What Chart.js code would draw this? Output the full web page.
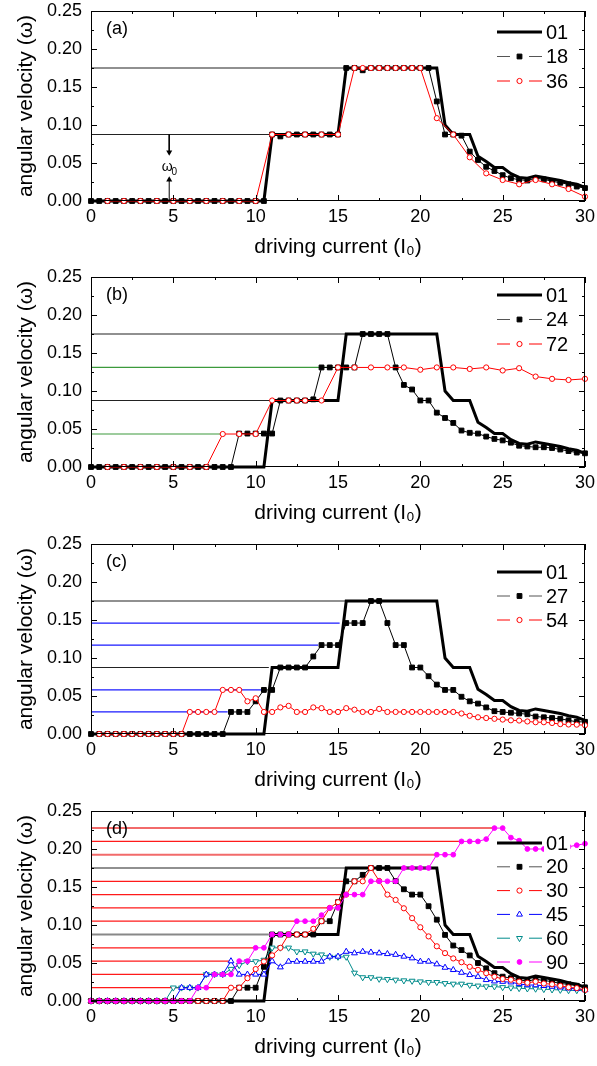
<!DOCTYPE html>
<html><head><meta charset="utf-8">
<script src="https://cdn.jsdelivr.net/npm/chart.js@4/dist/chart.umd.min.js"></script>
<style>
html,body{margin:0;padding:0;background:#fff;}
#wrap{position:relative;width:597px;height:1066px;overflow:hidden;}
.p{position:absolute;left:0;width:597px;}
canvas{display:block;}
</style></head><body>
<div id="wrap">
<div class="p" style="top:0;height:266px"><canvas id="ca" width="597" height="266"></canvas></div>
<div class="p" style="top:266px;height:266px"><canvas id="cb" width="597" height="266"></canvas></div>
<div class="p" style="top:533px;height:266px"><canvas id="cc" width="597" height="266"></canvas></div>
<div class="p" style="top:800px;height:266px"><canvas id="cd" width="597" height="266"></canvas></div>
</div>
<script>
// ---------------- DATA ----------------
const xTickValues = [0, 5, 10, 15, 20, 25, 30];
const xMinorTicks = [2.5, 7.5, 12.5, 17.5, 22.5, 27.5];
const yTickValues = [0, 0.05, 0.10, 0.15, 0.20, 0.25];
const yMinorTicks = [0.025, 0.075, 0.125, 0.175, 0.225];

const xHalf = [0,0.5,1,1.5,2,2.5,3,3.5,4,4.5,5,5.5,6,6.5,7,7.5,8,8.5,9,9.5,10,10.5,11,11.5,12,12.5,13,13.5,14,14.5,15,15.5,16,16.5,17,17.5,18,18.5,19,19.5,20,20.5,21,21.5,22,22.5,23,23.5,24,24.5,25,25.5,26,26.5,27,27.5,28,28.5,29,29.5,30];

// curve 01 (same in all panels)
const x01 = [0,10.5,11,15,15.5,21,21.5,22,23,23.5,24,24.5,25,25.5,26,26.5,27,27.5,28,28.5,29,29.5,30];
const y01 = [0,0,0.0875,0.0875,0.175,0.175,0.1,0.0875,0.0875,0.059,0.052,0.044,0.044,0.036,0.031,0.030,0.033,0.031,0.029,0.027,0.024,0.022,0.018];

// panel (a)
const ya18 = [0,0,0,0,0,0,0,0,0,0,0,0,0,0,0,0,0,0,0,0,0,0,
  0.0875,0.085,0.0875,0.0875,0.0875,0.0875,0.0875,0.0875,0.0875,
  0.175,0.175,0.172,0.175,0.175,0.175,0.175,0.175,0.175,0.175,0.175,
  0.131,0.0875,0.0875,0.086,0.065,0.054,0.045,0.0395,0.034,0.030,0.028,0.027,0.030,0.0285,0.026,0.024,0.022,0.019,0.017];
const xa36 = [1,2,3,4,5,6,7,8,9,10,11,12,13,14,15,16,16.5,17,17.5,18,18.5,19,19.5,20,21,22,23,24,25,26,27,28,29,30];
const ya36 = [0,0,0,0,0,0,0,0,0,0,0.0875,0.0875,0.0875,0.0875,0.0875,
  0.175,0.175,0.175,0.175,0.175,0.175,0.175,0.175,0.175,
  0.109,0.0875,0.0575,0.0364,0.0276,0.022,0.0276,0.022,0.0158,0.0057];
const refAy = [0.175, 0.0875];
const refAx = [15.5, 11];
const omegaX = 4.75;

// panel (b)
const yb24 = [0,0,0,0,0,0,0,0,0,0,0,0,0,0,0,0,0,0,
  0.044,0.044,0.044,0.044,0.044,
  0.0875,0.0875,0.0875,0.0875,0.089,
  0.131,0.131,0.131,0.131,0.131,
  0.175,0.175,0.175,0.175,
  0.131,0.108,0.102,0.0875,0.0875,0.0715,0.0645,0.058,0.048,0.045,0.044,0.040,0.037,0.035,0.032,0.028,0.027,0.026,0.026,0.025,0.023,0.021,0.019,0.018];
const xb72 = [1,2,3,4,5,6,7,8,9,10,11,12,12.5,13,14,15,16,17,18,19,20,21,22,23,24,25,26,27,28,29,30];
const yb72 = [0,0,0,0,0,0,0,0.0434,0.0434,0.0434,0.0875,0.0875,0.0875,0.0875,0.0875,
  0.131,0.131,0.131,0.131,0.131,0.128,0.131,0.131,0.129,0.131,0.127,0.130,0.119,0.116,0.1145,0.116];
const refBy = [0.175, 0.131, 0.0875, 0.0434];
const refBx = [15.5, 14.9, 11, 8];

// panel (c)
const yc27 = [0,0,0,0,0,0,0,0,0,0,0,0,0,0,0,0,0,
  0.029,0.029,0.029,0.043,0.058,0.058,
  0.0875,0.0875,0.0875,0.0875,0.102,0.117,0.117,0.117,
  0.146,0.146,0.146,0.175,0.175,0.146,0.117,0.117,0.0875,0.0875,0.076,0.065,0.058,0.058,0.049,0.043,0.040,0.035,0.030,0.029,0.028,0.027,0.026,0.023,0.022,0.021,0.020,0.018,0.016,0.016];
const yc54 = [0,0,0,0,0,0,0,0,0,0,0,
  0.029,0.029,0.029,0.029,
  0.058,0.058,0.058,
  0.043,0.047,0.029,0.029,0.035,0.037,0.029,0.029,0.035,0.034,0.029,0.029,0.034,0.032,0.029,0.029,0.033,0.029,
  0.029,0.029,0.029,0.029,0.029,0.029,0.029,0.029,
  0.027,0.024,0.022,0.021,0.020,0.019,0.018,0.0177,0.0165,0.0155,0.0155,0.0145,0.013,0.0125,0.0123,0.0115];
const refCy = [0.175, 0.146, 0.117, 0.0875, 0.058, 0.029];
const refCx = [15.5, 15.1, 13.8, 10.8, 10.5, 8.3];

// panel (d)
const yd20 = [0,0,0,0,0,0,0,0,0,0,0,0,0,0,0,0,0,0,
  0.0175,0.0175,0.0175,0.045,0.0875,0.0875,0.0875,0.0875,0.0875,0.0875,
  0.105,0.105,0.13,0.1575,0.1575,0.166,0.175,0.175,0.175,0.158,
  0.147,0.14,0.14,0.1247,0.107,0.087,0.073,0.067,0.06,0.05,
  0.043,0.0366,0.032,0.030,0.028,0.026,0.0286,0.027,0.0255,0.023,
  0.022,0.02,0.018];
const yd30 = [0,0,0,0,0,0,0,0,0,0,0,0,0,0,0,0,0,
  0.0175,0.0175,0.03,0.042,0.052,0.06,0.07,0.0875,0.0875,0.0875,
  0.095,0.105,0.1225,0.13,0.14,0.1575,0.1575,0.175,0.158,0.14,
  0.133,0.122,0.109,0.097,0.085,0.072,0.063,0.056,0.051,0.045,
  0.041,0.0366,0.032,0.029,0.028,0.0255,0.024,0.0255,0.023,0.022,
  0.02,0.018,0.017,0.0145];
const yd45 = [0,0,0,0,0,0,0,0,0,0,0,
  0.0175,0.0175,0.0175,0.035,0.035,0.035,0.0525,0.035,0.035,0.035,
  0.035,0.0525,0.0445,0.052,0.052,0.052,0.052,0.052,0.0586,0.0586,
  0.065,0.063,0.065,0.064,0.063,0.062,0.061,0.0586,0.0564,0.052,
  0.052,0.0485,0.044,0.041,0.0374,0.0344,0.032,0.0278,0.026,0.0255,
  0.0247,0.0225,0.021,0.021,0.02,0.019,0.018,0.0167,0.016,0.0145];
const yd60 = [0,0,0,0,0,0,0,0,0,0,
  0.0175,0.0175,0.0175,0.0175,0.035,0.035,0.035,0.042,0.047,0.052,
  0.052,0.054,0.07,0.07,0.07,0.065,0.065,0.062,0.061,0.058,
  0.058,0.058,0.037,0.031,0.031,0.029,0.0286,0.0278,0.0269,0.0264,
  0.0255,0.0247,0.0247,0.0233,0.0225,0.0225,0.021,0.02,0.019,0.019,
  0.018,0.0175,0.0167,0.0163,0.016,0.0155,0.015,0.0145,0.014,0.014,
  0.0137];
const yd90 = [0,0,0,0,0,0,0,0,0,0,0,0,0,
  0.0175,0.0175,0.035,0.035,0.035,0.0525,0.0525,0.07,0.07,0.0875,
  0.0875,0.0875,0.105,0.105,0.105,0.113,0.1225,0.1225,0.14,0.14,
  0.14,0.1575,0.1575,0.1575,0.1575,0.175,0.175,0.175,0.175,0.1925,
  0.1925,0.1925,0.21,0.21,0.21,0.213,0.2275,0.2275,0.215,0.211,
  0.2,0.2,0.2,0.2,0.2,0.203,0.205,0.207];
const refDy = [0.2275,0.21,0.1925,0.175,0.1575,0.14,0.1225,0.105,0.0875,0.07,0.0525,0.035,0.0175];
const refDx = [24.5,22.5,21,15.5,15.5,15.2,14.5,12.5,10.8,10,8.5,8.5,8.5];

// ---------------- STYLES ----------------
const FONT = "'Liberation Sans', Arial, sans-serif";
Chart.defaults.font.family = FONT;
Chart.defaults.color = '#000';

const ST = {
  s01: {color:'#000', width:3, point:null},
  sq:  {color:'#000', width:1, point:'rect', radius:3.4, fill:'#000', rot:0, legendLine:'#555'},
  ci:  {color:'#ff0000', width:1, point:'circle', radius:2.6, fill:'#fff', rot:0},
  tri: {color:'#0000ff', width:1, point:'triangle', radius:3.4, fill:'#fff', rot:0},
  tdn: {color:'#008b8b', width:1, point:'triangle', radius:3.4, fill:'#fff', rot:180},
  mag: {color:'#ff00ff', width:1, point:'circle', radius:2.4, fill:'#ff00ff', rot:0}
};
const refColA = ['#222','#222'];
const refColB = ['#222','#3c9a3c','#222','#3c9a3c'];
const refColC = ['#222','#1a1aff','#1a1aff','#222','#1a1aff','#1a1aff'];
const refColD = ['#f26a6a','#ff1a1a','#f26a6a','#222','#ff1a1a','#ff1a1a','#ff1a1a','#ff1a1a','#888','#ff1a1a','#ff1a1a','#ff1a1a','#ff1a1a'];
const refWD   = [2,1.2,2,1.2,1.2,1.2,1.2,1.2,2,1.2,1.2,1.2,1.2];

function pts(xs, ys){ return xs.map((x,i)=>({x:x, y:ys[i]})); }
function series(label, xs, ys, st, order){
  const d = {label, data:pts(xs,ys), borderColor:st.color, borderWidth:st.width, order, tension:0, clip:5};
  if(st.point){
    Object.assign(d,{pointStyle:st.point, pointRadius:st.radius, pointBackgroundColor:st.fill,
      pointBorderColor:st.color, pointBorderWidth:1, pointRotation:st.rot});
  } else d.pointRadius = 0;
  return d;
}
function refs(ys, xe, cols, widths){
  return ys.map((y,i)=>({label:'', data:[{x:0,y:y},{x:xe[i],y:y}], borderColor:cols[i],
    borderWidth: widths ? widths[i] : 1.2, pointRadius:0, order:100, tension:0}));
}

// ---------------- DECORATION PLUGIN ----------------
function drawMarker(ctx, st, x, y){
  ctx.save();
  ctx.fillStyle = st.fill; ctx.strokeStyle = st.color; ctx.lineWidth = 1;
  ctx.beginPath();
  const r = st.radius;
  if(st.point==='rect'){ const s=r*Math.SQRT1_2; ctx.rect(x-s,y-s,2*s,2*s); }
  else if(st.point==='circle'){ ctx.arc(x,y,r,0,Math.PI*2); }
  else if(st.point==='triangle'){
    const sgn = st.rot===180 ? -1 : 1;
    const side = 3*r/Math.sqrt(3), h = side*Math.sqrt(3)/2;
    ctx.moveTo(x, y - sgn*(h*2/3)); ctx.lineTo(x - side/2, y + sgn*h/3); ctx.lineTo(x + side/2, y + sgn*h/3); ctx.closePath();
  }
  ctx.fill(); ctx.stroke();
  ctx.restore();
}
const deco = {
  id:'deco',
  afterDatasetsDraw(chart, args, o){
    const {ctx, chartArea:a, scales:{x, y}} = chart;
    ctx.save();
    // inward ticks
    ctx.strokeStyle='#000'; ctx.lineWidth=1;
    ctx.beginPath();
    const tk = (vals, len, horiz) => vals.forEach(v=>{
      if(horiz){ const px=Math.round(x.getPixelForValue(v))+0.5;
        ctx.moveTo(px,a.bottom); ctx.lineTo(px,a.bottom-len); ctx.moveTo(px,a.top); ctx.lineTo(px,a.top+len); }
      else { const py=Math.round(y.getPixelForValue(v))+0.5;
        ctx.moveTo(a.left,py); ctx.lineTo(a.left+len,py); ctx.moveTo(a.right,py); ctx.lineTo(a.right-len,py); }
    });
    tk(xTickValues,6,true); tk(xMinorTicks,3,true); tk(yTickValues,6,false); tk(yMinorTicks,3,false);
    ctx.stroke();
    ctx.strokeRect(a.left+0.5, a.top+0.5, a.right-a.left-1, a.bottom-a.top-1);
    // panel label
    ctx.fillStyle='#000'; ctx.font='18px '+FONT; ctx.textBaseline='middle'; ctx.textAlign='left';
    ctx.fillText(o.label, a.left+15, a.top+18);
    // omega0 marker
    if(o.omega){
      const px = x.getPixelForValue(o.omega.x), py = y.getPixelForValue(o.omega.y);
      ctx.font='14px '+FONT; ctx.textAlign='center';
      ctx.fillText('ω', px-2, py);
      ctx.font='10px '+FONT; ctx.fillText('0', px+5, py+5);
    }
    // legend
    const L = o.legend; const lx0 = a.left+406, lx1 = a.left+451;
    L.items.forEach((it,i)=>{
      const ly = a.top + L.top + i*L.gap;
      const st = ST[it.st];
      ctx.strokeStyle = st.legendLine || st.color; ctx.lineWidth = st.width;
      ctx.beginPath();
      if(!st.point){ ctx.moveTo(lx0,ly); ctx.lineTo(lx1,ly); }
      else { ctx.moveTo(lx0,ly); ctx.lineTo(lx0+13,ly); ctx.moveTo(lx1-13,ly); ctx.lineTo(lx1,ly); }
      ctx.stroke();
      if(st.point) drawMarker(ctx, st, (lx0+lx1)/2, ly);
      ctx.font='20px '+FONT; ctx.textAlign='left'; ctx.textBaseline='middle';
      if(L.opaque){ const w=ctx.measureText(it.label).width; ctx.fillStyle='#fff'; ctx.fillRect(lx1+2, ly-10, w+4, 20); }
      ctx.fillStyle='#000'; ctx.fillText(it.label, lx1+4, ly+1);
    });
    ctx.restore();
  }
};

function makeChart(id, datasets, decoOpts){
  return new Chart(document.getElementById(id), {
    type:'line',
    data:{datasets},
    plugins:[deco],
    options:{
      responsive:false, animation:false, events:[],
      layout:{padding:{top:11,right:12,left:0,bottom:0}},
      plugins:{legend:{display:false}, tooltip:{enabled:false}, deco:decoOpts},
      scales:{
        x:{type:'linear', min:0, max:30,
           ticks:{stepSize:5, autoSkip:false, maxRotation:0, font:{size:18}, color:'#000', padding:5, callback:v=>String(v)},
           grid:{display:false, drawTicks:false}, border:{display:false},
           title:{display:true, text:'driving current (I₀)', font:{size:21}, color:'#000', padding:{top:0,bottom:6}},
           afterFit(s){ s.height = 65; s.paddingLeft = 0; s.paddingRight = 0; }},
        y:{type:'linear', min:0, max:0.25,
           ticks:{stepSize:0.05, font:{size:18}, color:'#000', padding:9, callback:v=>v.toFixed(2)},
           grid:{display:false, drawTicks:false}, border:{display:false},
           title:{display:true, text:'angular velocity (ω)', font:{size:21}, color:'#000', padding:{top:14,bottom:0}},
           afterFit(s){ s.width = 91; s.paddingTop = 0; s.paddingBottom = 0; }}
      }
    }
  });
}

// panel (a)
makeChart('ca', [
  series('01', x01, y01, ST.s01, 40),
  series('18', xHalf, ya18, ST.sq, 30),
  series('36', xa36, ya36, ST.ci, 10),
  ...refs(refAy, refAx, refColA),
  {label:'', data:[{x:omegaX,y:0.0875},{x:omegaX,y:0.064}], borderColor:'#000', borderWidth:1, order:90,
   pointRadius:[0,3.5], pointStyle:'triangle', pointRotation:180, pointBackgroundColor:'#000', pointBorderWidth:0},
  {label:'', data:[{x:omegaX,y:0},{x:omegaX,y:0.028}], borderColor:'#000', borderWidth:1, order:90,
   pointRadius:[0,3.5], pointStyle:'triangle', pointRotation:0, pointBackgroundColor:'#000', pointBorderWidth:0}
], {label:'(a)', omega:{x:omegaX, y:0.045},
    legend:{top:21, gap:24.5, items:[{label:'01',st:'s01'},{label:'18',st:'sq'},{label:'36',st:'ci'}]}});

// panel (b)
makeChart('cb', [
  series('01', x01, y01, ST.s01, 40),
  series('24', xHalf, yb24, ST.sq, 30),
  series('72', xb72, yb72, ST.ci, 10),
  ...refs(refBy, refBx, refColB)
], {label:'(b)', legend:{top:18, gap:24.5, items:[{label:'01',st:'s01'},{label:'24',st:'sq'},{label:'72',st:'ci'}]}});

// panel (c)
makeChart('cc', [
  series('01', x01, y01, ST.s01, 40),
  series('27', xHalf, yc27, ST.sq, 30),
  series('54', xHalf.slice(1), yc54, ST.ci, 10),
  ...refs(refCy, refCx, refColC)
], {label:'(c)', legend:{top:28, gap:24, items:[{label:'01',st:'s01'},{label:'27',st:'sq'},{label:'54',st:'ci'}]}});

// panel (d)
makeChart('cd', [
  series('01', x01, y01, ST.s01, 40),
  series('20', xHalf, yd20, ST.sq, 25),
  series('30', xHalf, yd30, ST.ci, 20),
  series('45', xHalf, yd45, ST.tri, 30),
  series('60', xHalf, yd60, ST.tdn, 35),
  series('90', xHalf, yd90, ST.mag, 10),
  ...refs(refDy, refDx, refColD, refWD)
], {label:'(d)', legend:{top:32, gap:23.8, opaque:true, items:[{label:'01',st:'s01'},{label:'20',st:'sq'},{label:'30',st:'ci'},{label:'45',st:'tri'},{label:'60',st:'tdn'},{label:'90',st:'mag'}]}});
</script>
</body></html>
